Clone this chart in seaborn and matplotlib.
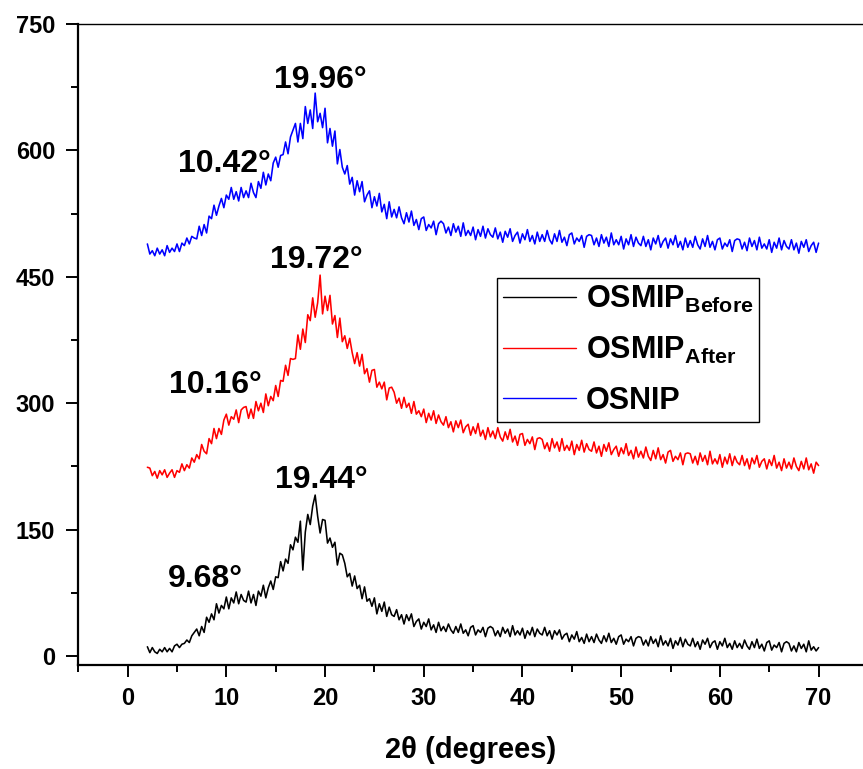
import numpy as np
import pandas as pd
import matplotlib
matplotlib.use("Agg")
import matplotlib.pyplot as plt
import seaborn as sns
from matplotlib.lines import Line2D

sns.set_style("ticks", {"text.color": "black", "axes.labelcolor": "black",
                        "xtick.color": "black", "ytick.color": "black",
                        "axes.edgecolor": "black"})
plt.rcParams["font.family"] = ["Liberation Sans", "DejaVu Sans"]
plt.rcParams["mathtext.fontset"] = "custom"
plt.rcParams["mathtext.rm"] = "Liberation Sans"
plt.rcParams["mathtext.bf"] = "Liberation Sans:bold"

# Diffraction angle grid (2θ, degrees), 0.25° step
two_theta = np.arange(2.0, 70.001, 0.25)

# Intensities (a.u., stacked with offsets)
osnip = [
    489, 477, 481, 475, 484, 477, 482, 475, 487, 479, 484, 480, 489, 480, 490, 487, 496, 489, 498, 496,
    495, 510, 499, 512, 502, 522, 519, 535, 523, 534, 543, 532, 547, 542, 556, 542, 551, 540, 556, 544,
    552, 544, 561, 550, 544, 563, 555, 574, 559, 572, 564, 585, 592, 580, 594, 595, 610, 596, 616, 624,
    632, 610, 632, 614, 652, 632, 648, 626, 668, 634, 644, 627, 650, 609, 626, 605, 623, 584, 601, 580,
    572, 582, 560, 568, 547, 564, 551, 563, 539, 547, 552, 532, 545, 534, 549, 527, 536, 519, 539, 521,
    530, 520, 533, 520, 513, 526, 515, 528, 511, 518, 506, 519, 521, 505, 512, 508, 516, 500, 513, 516,
    513, 502, 509, 499, 513, 503, 510, 498, 514, 499, 505, 499, 509, 494, 506, 498, 510, 496, 507, 500,
    497, 508, 495, 503, 491, 504, 497, 507, 492, 499, 503, 490, 501, 494, 506, 492, 499, 489, 503, 492,
    500, 492, 505, 494, 489, 501, 492, 505, 491, 497, 487, 500, 502, 489, 496, 492, 499, 485, 498, 500,
    499, 488, 496, 486, 500, 490, 497, 486, 502, 488, 494, 488, 498, 483, 495, 488, 500, 486, 497, 490,
    487, 498, 486, 494, 482, 496, 489, 499, 485, 492, 496, 484, 495, 488, 499, 485, 492, 482, 496, 485,
    493, 485, 498, 488, 483, 495, 486, 499, 485, 492, 482, 494, 496, 483, 490, 486, 494, 480, 493, 495,
    494, 483, 491, 481, 496, 486, 493, 482, 497, 484, 489, 483, 494, 479, 491, 484, 496, 482, 493, 486,
    483, 494, 482, 490, 478, 492, 485, 494, 480, 487, 491, 479, 490,
]

osmip_after = [
    224, 223, 214, 219, 211, 220, 215, 221, 212, 217, 221, 212, 220, 218, 228, 220, 227, 223, 235, 230,
    239, 234, 251, 243, 240, 258, 252, 270, 258, 270, 263, 280, 287, 274, 284, 281, 292, 277, 292, 295,
    296, 282, 293, 282, 302, 291, 300, 289, 311, 297, 308, 303, 321, 308, 327, 326, 345, 333, 353, 352,
    353, 381, 364, 388, 372, 405, 398, 425, 402, 419, 452, 406, 427, 410, 428, 394, 404, 378, 401, 373,
    380, 365, 377, 360, 347, 360, 344, 358, 335, 341, 325, 339, 340, 319, 325, 317, 325, 304, 318, 319,
    313, 300, 306, 294, 307, 295, 300, 288, 302, 287, 291, 284, 293, 277, 288, 280, 291, 276, 286, 278,
    274, 284, 271, 278, 266, 279, 271, 280, 265, 272, 275, 262, 272, 264, 276, 261, 268, 257, 271, 260,
    267, 258, 271, 260, 255, 266, 257, 269, 254, 261, 250, 263, 264, 250, 257, 252, 260, 245, 258, 259,
    257, 246, 253, 243, 258, 247, 254, 243, 258, 244, 250, 244, 255, 239, 251, 244, 256, 242, 252, 245,
    243, 254, 241, 249, 237, 251, 243, 253, 239, 245, 249, 237, 247, 240, 252, 238, 244, 234, 248, 236,
    243, 235, 248, 237, 232, 244, 234, 247, 233, 239, 229, 242, 244, 231, 237, 233, 241, 227, 240, 241,
    240, 229, 237, 227, 241, 231, 238, 227, 243, 228, 234, 228, 239, 224, 236, 228, 240, 226, 237, 230,
    227, 238, 226, 234, 222, 235, 228, 238, 224, 231, 234, 222, 233, 226, 238, 223, 230, 220, 234, 223,
    230, 222, 235, 225, 220, 231, 222, 235, 221, 228, 217, 230, 226,
]

osmip_before = [
    11, 4, 10, 5, 3, 8, 5, 10, 5, 9, 5, 12, 14, 10, 14, 15, 19, 16, 24, 28,
    32, 24, 35, 28, 46, 40, 50, 43, 62, 51, 60, 56, 70, 56, 69, 63, 76, 62, 73, 66,
    64, 77, 63, 73, 60, 77, 71, 84, 69, 81, 89, 79, 94, 93, 112, 101, 115, 110, 132, 126,
    141, 135, 160, 102, 147, 168, 156, 178, 191, 166, 146, 162, 161, 134, 140, 129, 135, 108, 122, 120,
    110, 94, 98, 83, 95, 80, 84, 68, 82, 65, 68, 59, 69, 50, 62, 53, 64, 47, 58, 49,
    47, 55, 43, 49, 38, 49, 42, 50, 35, 41, 44, 32, 40, 35, 44, 31, 37, 28, 40, 30,
    35, 29, 38, 31, 27, 35, 28, 38, 27, 31, 24, 34, 36, 25, 31, 28, 34, 23, 33, 35,
    33, 24, 30, 23, 34, 27, 32, 23, 36, 25, 30, 25, 33, 21, 30, 25, 34, 23, 32, 27,
    25, 34, 24, 30, 20, 30, 25, 31, 20, 25, 27, 17, 25, 20, 29, 17, 22, 15, 26, 17,
    23, 16, 26, 19, 15, 24, 17, 27, 16, 21, 14, 23, 25, 14, 20, 17, 23, 12, 21, 23,
    22, 13, 19, 12, 23, 15, 20, 11, 24, 13, 18, 12, 21, 9, 18, 13, 22, 11, 20, 14,
    12, 21, 11, 17, 8, 19, 14, 21, 10, 16, 18, 8, 17, 12, 21, 10, 15, 8, 18, 10,
    15, 9, 19, 12, 8, 17, 10, 20, 9, 14, 6, 16, 18, 7, 13, 10, 16, 5, 15, 17,
    15, 6, 12, 5, 16, 9, 14, 5, 18, 7, 11, 6, 10,
]

series_names = ["OSMIP_Before", "OSMIP_After", "OSNIP"]
series_colors = ["black", "red", "blue"]
legend_labels = [r"$\mathbf{OSMIP}_{\mathbf{Before}}$",
                 r"$\mathbf{OSMIP}_{\mathbf{After}}$",
                 "OSNIP"]

# Peak annotations: text and anchor (2θ, intensity baseline)
peak_texts = ["9.68°", "19.44°", "10.16°", "19.72°", "10.42°", "19.96°"]
peak_x = [7.85, 19.6, 8.9, 19.15, 9.85, 19.5]
peak_y = [82, 199, 312, 460, 574, 674]

x_ticks = [0, 10, 20, 30, 40, 50, 60, 70]
y_ticks = [0, 150, 300, 450, 600, 750]

df = pd.DataFrame({
    "two_theta": np.concatenate([two_theta] * 3),
    "intensity": np.concatenate([osmip_before, osmip_after, osnip]),
    "sample": np.repeat(series_names, len(two_theta)),
})

fig = plt.figure(figsize=(8.63, 7.69), dpi=100)
ax = fig.add_axes([0.0907, 0.1352, 0.9093, 0.8336])

sns.lineplot(data=df, x="two_theta", y="intensity", hue="sample",
             palette=dict(zip(series_names, series_colors)),
             estimator=None, sort=False, linewidth=1.15, legend=False, ax=ax)

for t, px, py in zip(peak_texts, peak_x, peak_y):
    ax.text(px, py, t, ha="center", va="baseline", fontsize=23, fontweight="bold")

ax.set_xlim(-5, 74.5)
ax.set_ylim(-10.7, 750)
ax.set_xticks(x_ticks)
ax.set_xticklabels([str(v) for v in x_ticks], fontsize=17, fontweight="bold")
ax.set_yticks(y_ticks)
ax.set_yticklabels([str(v) for v in y_ticks], fontsize=17, fontweight="bold")
ax.set_xticks(np.arange(-5, 75, 10), minor=True)
ax.set_yticks(np.arange(75, 750, 150), minor=True)
ax.tick_params(which="major", length=8.6, width=1.4, direction="out", color="black")
ax.tick_params(which="minor", length=5, width=1.4, direction="out", color="black")
ax.tick_params(axis="x", which="major", pad=7)
ax.tick_params(axis="y", which="major", pad=8)

ax.set_xlabel("2θ (degrees)", fontsize=21, fontweight="bold", labelpad=19)
ax.set_ylabel("")

ax.spines["right"].set_visible(False)
ax.spines["top"].set_linewidth(1.0)
ax.spines["left"].set_linewidth(1.6)
ax.spines["bottom"].set_linewidth(1.6)

handles = [Line2D([], [], color=c, lw=1.0) for c in series_colors]
leg = ax.legend(handles, legend_labels, loc="upper left",
                bbox_to_anchor=(0.5336, 0.6037), frameon=True, fancybox=False,
                edgecolor="black", framealpha=1, prop={"weight": "bold", "size": 22},
                handlelength=2.4, handletextpad=0.3, borderpad=0.2,
                labelspacing=0.65, borderaxespad=0)
leg.get_frame().set_linewidth(1.0)

fig.savefig("out.png", dpi=100)
